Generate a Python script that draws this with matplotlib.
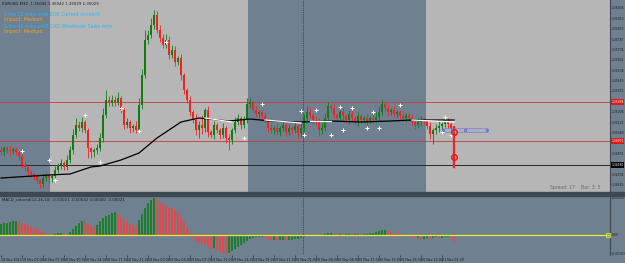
import numpy as np
import matplotlib
matplotlib.use('Agg')
import matplotlib.pyplot as plt
from matplotlib.patches import Rectangle

# ── colours ───────────────────────────────────────────────────────────────────
DARK_BG = '#6f8091'
LIGHT_BG = '#b6b6b6'
BULL = '#0f7d0f'
BEAR = '#f02222'
MACD_UP = '#1c7f2a'
MACD_DN = '#e04a4a'
PIP = 0.0001

# ── price data (EURUSD M30) ───────────────────────────────────────────────────
first_open = 1.34900
close = [
    1.34884, 1.34916, 1.34900, 1.34892, 1.34908, 1.34884, 1.34852, 1.34780, 1.34764, 1.34724,
    1.34708, 1.34692, 1.34660, 1.34628, 1.34676, 1.34700, 1.34676, 1.34692, 1.34740, 1.34780,
    1.34796, 1.34764, 1.34820, 1.34900, 1.35020, 1.35100, 1.35076, 1.35124, 1.35060, 1.34916,
    1.34884, 1.34900, 1.34916, 1.34996, 1.35180, 1.35300, 1.35276, 1.35300, 1.35284, 1.35316,
    1.35220, 1.35100, 1.35124, 1.35076, 1.35092, 1.35060, 1.35260, 1.35500, 1.35780, 1.35820,
    1.35900, 1.35980, 1.35860, 1.35796, 1.35740, 1.35780, 1.35660, 1.35700, 1.35604, 1.35636,
    1.35500, 1.35380, 1.35300, 1.35204, 1.35140, 1.35060, 1.35100, 1.35076, 1.35220, 1.35044,
    1.35020, 1.35100, 1.35060, 1.35020, 1.35076, 1.34996, 1.34980, 1.35060, 1.35124, 1.35156,
    1.35100, 1.35140, 1.35268, 1.35284, 1.35220, 1.35188, 1.35204, 1.35172, 1.35140, 1.35076,
    1.35060, 1.35076, 1.35044, 1.35076, 1.35100, 1.35044, 1.35076, 1.35060, 1.35092, 1.35036,
    1.35076, 1.35156, 1.35204, 1.35180, 1.35140, 1.35124, 1.35060, 1.35076, 1.35156, 1.35252,
    1.35236, 1.35180, 1.35156, 1.35204, 1.35172, 1.35140, 1.35188, 1.35156, 1.35124, 1.35172,
    1.35140, 1.35156, 1.35132, 1.35156, 1.35140, 1.35164, 1.35204, 1.35268, 1.35236, 1.35204,
    1.35220, 1.35188, 1.35204, 1.35172, 1.35156, 1.35180, 1.35156, 1.35124, 1.35100, 1.35124,
    1.35140, 1.35132, 1.35092, 1.35028, 1.35060, 1.35076, 1.35092, 1.35108, 1.35124, 1.35108,
    1.35076, 1.34796,
]
# wick lengths in pips above / below the body
wick_up = [
    3, 2, 2, 3, 2, 2, 1, 2, 3, 1, 2, 1, 2, 1, 3, 2, 1, 2, 3,
    2, 3, 2, 4, 3, 5, 6, 3, 4, 2, 2, 1, 2, 3, 4, 6, 8, 3, 4,
    3, 5, 2, 2, 3, 2, 2, 4, 6, 5, 8, 4, 6, 4, 3, 4, 3, 5, 3,
    4, 3, 2, 3, 2, 2, 3, 2, 5, 3, 8, 2, 3, 2, 3, 2, 2, 4, 2,
    3, 2, 4, 3, 2, 3, 5, 3, 2, 3, 2, 2, 3, 2, 3, 2, 3, 2, 3,
    2, 3, 2, 3, 2, 4, 3, 5, 4, 2, 3, 3, 5, 4, 3, 2, 3, 2, 3,
    4, 2, 3, 3, 2, 3, 2, 2, 3, 2, 3, 4, 5, 3, 2, 3, 2, 3, 2,
    2, 3, 2, 2, 3, 2, 4, 3, 2, 2, 3, 2, 3, 5, 2, 2, 3, 2, 2,
]
wick_dn = [
    2, 3, 2, 3, 2, 2, 3, 2, 2, 3, 2, 3, 2, 3, 2, 2, 4, 3, 2,
    2, 3, 2, 2, 2, 3, 2, 2, 3, 2, 8, 5, 4, 3, 2, 3, 2, 2, 2,
    3, 2, 2, 3, 2, 4, 3, 2, 2, 3, 2, 3, 2, 3, 2, 3, 2, 2, 3,
    2, 3, 2, 4, 3, 2, 3, 2, 4, 6, 5, 3, 4, 2, 3, 2, 3, 2, 4,
    8, 3, 2, 2, 3, 2, 2, 3, 2, 2, 3, 2, 2, 3, 2, 3, 2, 3, 2,
    3, 2, 3, 2, 4, 3, 2, 2, 2, 3, 2, 5, 3, 2, 2, 3, 2, 3, 2,
    3, 2, 3, 2, 2, 3, 2, 2, 3, 2, 2, 2, 3, 2, 2, 3, 2, 2, 3,
    2, 2, 3, 2, 2, 3, 2, 3, 2, 2, 4, 8, 3, 3, 2, 2, 3, 2, 4,
]

# moving average (black) and a second average (white) where it shows
ma_bars = [0, 16, 23, 30, 33, 40, 46, 52, 60, 66, 76, 83, 90, 100, 110, 120, 130, 137, 151]
ma_vals = [1.34676, 1.34700, 1.34708, 1.34764, 1.34772, 1.34820, 1.34876, 1.34996, 1.35124,
           1.35156, 1.35132, 1.35148, 1.35132, 1.35124, 1.35132, 1.35124, 1.35132, 1.35140, 1.35140]
white_bars = [[68, 77], [88, 100], [103, 110], [137, 151]]
white_vals = [[1.35156, 1.35124], [1.35140, 1.35116], [1.35132, 1.35132], [1.35140, 1.35124]]

# fractal marks
frac_bars = [7, 16, 18, 28, 33, 40, 46, 55, 81, 87, 100, 101, 105, 110, 113, 114, 117,
             122, 124, 126, 133, 148, 147, 150]
frac_vals = [1.34892, 1.34820, 1.34660, 1.35180, 1.34804, 1.35236, 1.35052, 1.35764, 1.34996,
             1.35268, 1.35212, 1.35020, 1.35220, 1.35020, 1.35244, 1.35060, 1.35236, 1.35076,
             1.35204, 1.35076, 1.35260, 1.35164, 1.35044, 1.35020]

# horizontal levels
res_levels = [1.35284, 1.34972]
bid_level = 1.34780
cursor_bar = 100.67

# session shading boundaries (bar units)
session_edges = [-0.5, 16.3, 82.3, 141.7, 205]
session_cols = [DARK_BG, LIGHT_BG, DARK_BG, LIGHT_BG]

# MACD histogram
macd = [
    0.00055, 0.00060, 0.00060, 0.00065, 0.00070, 0.00070, 0.00065, 0.00060, 0.00055, 0.00050,
    0.00040, 0.00035, 0.00030, 0.00020, 0.00015, 0.00005, 0.000025, 0.000025, 0.00005, 0.00010,
    0.00010, 0.000075, 0.00005, 0.00015, 0.00030, 0.00045, 0.00060, 0.00070, 0.00065, 0.00055,
    0.00045, 0.00040, 0.00050, 0.00070, 0.00085, 0.00095, 0.00100, 0.00110, 0.00115, 0.00105,
    0.00090, 0.00075, 0.00065, 0.00055, 0.00050, 0.00045, 0.00075, 0.00105, 0.00135, 0.00160,
    0.00175, 0.00185, 0.00180, 0.00165, 0.00150, 0.00145, 0.00140, 0.00135, 0.00125, 0.00110,
    0.00090, 0.00070, 0.00040, 0.00010, -0.00015, -0.00030, -0.00040, -0.00045, -0.00050, -0.00060,
    -0.00070, -0.00065, -0.00080, -0.00085, -0.00090, -0.00095, -0.00090, -0.00080, -0.00070, -0.00060,
    -0.00050, -0.00040, -0.00030, -0.00020, -0.00015, -0.00010, -0.00010, -0.00010, -0.00015, -0.00020,
    -0.00025, -0.00025, -0.00030, -0.00025, -0.00025, -0.00030, -0.00025, -0.00025, -0.00020, -0.00020,
    -0.00015, -0.00010, -0.00005, -0.00005, -0.00005, 0.000025, -0.00005, -0.00005, 0.00005, 0.00010,
    0.00010, 0.000075, 0.00005, 0.000075, 0.00005, 0.00005, 0.000075, 0.00005, 0.00005, 0.000075,
    0.00005, 0.00005, 0.00005, 0.00010, 0.00010, 0.00015, 0.00020, 0.00025, 0.00025, 0.00020,
    0.00015, 0.000125, 0.00010, 0.00005, 0.000025, -0.00005, -0.000075, -0.00010, -0.00015, -0.00015,
    -0.00020, -0.00020, -0.00015, -0.00020, -0.00015, -0.00010, -0.00015, -0.00015, -0.00010, -0.00010,
    -0.00015, -0.00035,
]

time_ticks = [0, 7, 14, 21, 28, 35, 42, 49, 56, 63, 70, 77, 84, 91, 98, 105, 112, 119, 126, 133, 140, 147]
time_labels = ['18 Nov 2013', '18 Nov 03:30', '18 Nov 07:00', '18 Nov 10:30', '18 Nov 14:00',
               '18 Nov 17:30', '18 Nov 21:00', '19 Nov 00:30', '19 Nov 04:00', '19 Nov 07:30',
               '19 Nov 11:00', '19 Nov 14:30', '19 Nov 18:00', '19 Nov 21:30', '20 Nov 01:00',
               '20 Nov 04:30', '20 Nov 08:00', '20 Nov 11:30', '20 Nov 15:00', '20 Nov 18:30',
               '20 Nov 22:00', '21 Nov 01:30']

# ── figure ────────────────────────────────────────────────────────────────────
W, H = 625, 263
fig = plt.figure(figsize=(W / 100, H / 100), dpi=100, facecolor=DARK_BG)

def fig_rect(x0, y0, x1, y1):
    """pixel box (top-left origin) -> figure fraction rect"""
    return [x0 / W, 1 - y1 / H, (x1 - x0) / W, (y1 - y0) / H]

ax = fig.add_axes(fig_rect(0, 0, 610, 192))
axm = fig.add_axes(fig_rect(0, 196, 610, 255), sharex=ax)
fig.patches.append(Rectangle((0, 1 - 196 / H), 1, 4 / H, transform=fig.transFigure,
                             color='#3e4852', zorder=0))

XMAX = 203
for a in (ax, axm):
    a.set_facecolor(DARK_BG)
    for s in a.spines.values():
        s.set_visible(False)
    a.spines['right'].set_visible(True)
    a.spines['right'].set_color('#3e4852')
    a.spines['right'].set_linewidth(0.8)
ax.set_xlim(-0.33, XMAX)

# sessions
for i, c in enumerate(session_cols):
    ax.axvspan(session_edges[i], session_edges[i + 1], color=c, lw=0, zorder=0)

# levels
for lv in res_levels:
    ax.axhline(lv, color='#c43a3a', lw=0.6, zorder=1)
ax.axhline(bid_level, color='#2a2a2a', lw=0.7, zorder=1)
ax.axvline(cursor_bar, color='#2e3640', lw=0.6, ls=(0, (1, 1.2)), zorder=1)
axm.axvline(cursor_bar, color='#2e3640', lw=0.6, ls=(0, (1, 1.2)), zorder=1)

# candles
c = np.array(close)
idx = np.arange(len(c))
o = np.r_[first_open, c[:-1]]
hi = np.maximum(o, c) + np.array(wick_up) * PIP
lo = np.minimum(o, c) - np.array(wick_dn) * PIP
cols = np.where(c >= o, BULL, BEAR)
ax.vlines(idx, lo, hi, colors=cols, lw=0.6, zorder=3)
body = np.maximum(np.abs(c - o), 0.00003)
ax.bar(idx, body, bottom=np.minimum(o, c), width=0.7, color=cols, lw=0, zorder=3)
ax.vlines(idx[-1], lo[-1], hi[-1], colors=BEAR, lw=1.6, zorder=4)

# averages
ax.plot(ma_bars, ma_vals, color='black', lw=0.9, zorder=4)
for b, v in zip(white_bars, white_vals):
    ax.plot(b, v, color='white', lw=0.9, zorder=5)

# fractals
ax.plot(frac_bars, frac_vals, ls='none', marker='+', ms=2.6, mew=0.7, color='white', zorder=6)

# drawn objects near the last bar
ax.add_patch(Rectangle((147.3, 1.35044), 14.7, 0.00032, facecolor='#9aa6d8', alpha=0.35,
                       edgecolor='#4a58c8', lw=0.8, zorder=5))
ax.plot([147.3, 154.6, 162], [1.35060] * 3, ls='none', marker='s', ms=1.3, mfc='none',
        mec='#4a58c8', mew=0.5, zorder=6)
ax.plot([151, 151], [1.35044, 1.34844], ls='none', marker='o', ms=4, mfc='none',
        mec='#e41c1c', mew=1.1, zorder=7)

# price axis (skip tick labels hidden under the level boxes)
marked = res_levels + [bid_level]
ticks = [t for t in np.arange(1.34625, 1.3608, 0.00083)
         if min(abs(t - lv) for lv in marked) > 0.00035]
ax.set_ylim(1.3610 - 192 * 0.00008, 1.3610)
ax.yaxis.tick_right()
ax.set_yticks(ticks)
ax.yaxis.set_major_formatter(plt.FormatStrFormatter('%.5f'))
ax.tick_params(axis='y', labelsize=2.2, colors='#1a1a1a', length=1.0, width=0.4, pad=0.4)
ax.tick_params(axis='x', bottom=False, labelbottom=False)
ytr = ax.get_yaxis_transform()
for lv in res_levels:
    ax.text(1.002, lv, f'{lv:.5f}', transform=ytr, fontsize=2.2, color='white', va='center',
            ha='left', bbox=dict(boxstyle='square,pad=0.2', fc='#e01818', ec='none'),
            zorder=10, clip_on=False)
ax.text(1.002, bid_level, f'{bid_level:.5f}', transform=ytr, fontsize=2.2, color='white',
        va='center', ha='left', bbox=dict(boxstyle='square,pad=0.2', fc='black', ec='none'),
        zorder=10, clip_on=False)

# header texts
ax.text(0.004, 0.988, 'EURUSD,M30  1.35042 1.35042 1.35029 1.35029', transform=ax.transAxes,
        fontsize=2.8, color='#1a1a1a', va='top')
news = [('1 hrs 13 mins until EUR Current Account', 0.94),
        ('5 hrs 43 mins until CAD Wholesale Sales m/m', 0.875)]
for txt, y in news:
    ax.text(0.006, y, txt, transform=ax.transAxes, fontsize=3.4, color='#33b4ee', va='top')
    ax.text(0.006, y - 0.028, 'Impact: Medium', transform=ax.transAxes, fontsize=3.4,
            color='#f0a21c', va='top')
ax.text(0.985, 0.012, 'Spread: 17    Bar: 3: 5', transform=ax.transAxes, fontsize=3.3,
        color='#6a6a6a', ha='right', va='bottom')

# ── MACD panel ────────────────────────────────────────────────────────────────
m = np.array(macd)
mcols = np.where(np.r_[m[0] - 1, m[:-1]] <= m, MACD_UP, MACD_DN)
axm.bar(idx, m, width=0.68, color=mcols, lw=0, zorder=3)
axm.axhline(0, color='#e4ea3a', lw=0.9, zorder=4)
axm.plot([XMAX - 0.6], [0], marker='s', ms=2.2, mfc='none', mec='#e4ea3a', mew=0.6,
         clip_on=False, zorder=5)
axm.set_ylim(-0.00100, 0.00195)
axm.yaxis.tick_right()
axm.set_yticks([0.00185, 0.0, -0.00092])
axm.set_yticklabels(['0.00220', '0.00', '-0.00103'])
axm.tick_params(axis='y', labelsize=2.2, colors='#1a1a1a', length=1.0, width=0.4, pad=0.4)
axm.text(0.004, 0.97, 'MACD_colored(12,26,10) -0.00021 -0.00042 0.00000 -0.00021',
         transform=axm.transAxes, fontsize=2.8, color='#1a1a1a', va='top')

axm.set_xticks(time_ticks)
axm.set_xticklabels(time_labels)
axm.tick_params(axis='x', labelsize=2.3, colors='#1a1a1a', length=1.5, width=0.4, pad=0.8)
for lbl in axm.get_xticklabels():
    lbl.set_ha('left')
axm.set_xlim(-0.33, XMAX)

fig.savefig('out.png', dpi=100, facecolor=DARK_BG)
